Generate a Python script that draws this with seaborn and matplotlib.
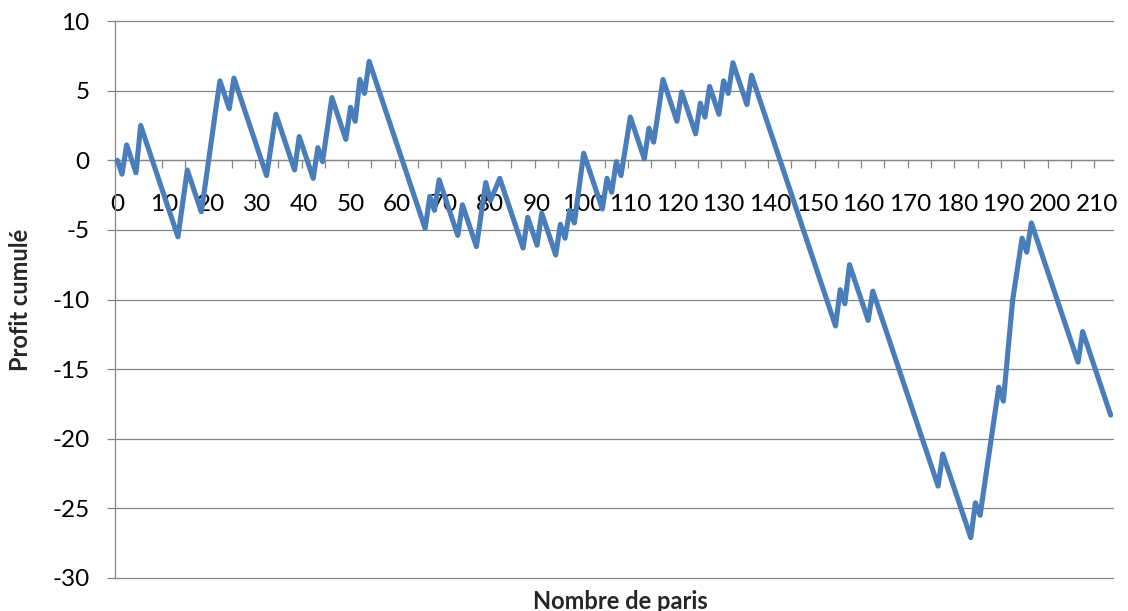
import numpy as np
import pandas as pd
import matplotlib
matplotlib.use("Agg")
import matplotlib.pyplot as plt
import seaborn as sns
from matplotlib.ticker import FixedLocator

# Cumulative profit after each bet
profit = [
    0.0, -1.0, 1.1, 0.1, -0.9, 2.5, 1.5, 0.5, -0.5, -1.5,
    -2.5, -3.5, -4.5, -5.5, -3.1, -0.7, -1.7, -2.7, -3.7, -1.4,
    1.0, 3.4, 5.7, 4.7, 3.7, 5.9, 4.9, 3.9, 2.9, 1.9,
    0.9, -0.1, -1.1, 1.1, 3.3, 2.3, 1.3, 0.3, -0.7, 1.7,
    0.7, -0.3, -1.3, 0.9, -0.1, 2.2, 4.5, 3.5, 2.5, 1.5,
    3.8, 2.8, 5.8, 4.8, 7.1, 6.1, 5.1, 4.1, 3.1, 2.1,
    1.1, 0.1, -0.9, -1.9, -2.9, -3.9, -4.9, -2.6, -3.6, -1.4,
    -2.4, -3.4, -4.4, -5.4, -3.2, -4.2, -5.2, -6.2, -3.9, -1.6,
    -2.9, -2.1, -1.3, -2.3, -3.3, -4.3, -5.3, -6.3, -4.1, -5.1,
    -6.1, -3.8, -4.8, -5.8, -6.8, -4.6, -5.6, -3.6, -4.5, -2.0,
    0.5, -0.5, -1.5, -2.5, -3.5, -1.3, -2.3, -0.1, -1.1, 1.0,
    3.1, 2.1, 1.1, 0.1, 2.3, 1.3, 3.5, 5.8, 4.8, 3.8,
    2.8, 4.9, 3.9, 2.9, 1.9, 4.1, 3.1, 5.3, 4.3, 3.3,
    5.7, 4.8, 7.0, 6.0, 5.0, 4.0, 6.1, 5.1, 4.1, 3.1,
    2.1, 1.1, 0.1, -0.9, -1.9, -2.9, -3.9, -4.9, -5.9, -6.9,
    -7.9, -8.9, -9.9, -10.9, -11.9, -9.3, -10.3, -7.5, -8.5, -9.5,
    -10.5, -11.5, -9.4, -10.4, -11.4, -12.4, -13.4, -14.4, -15.4, -16.4,
    -17.4, -18.4, -19.4, -20.4, -21.4, -22.4, -23.4, -21.1, -22.1, -23.1,
    -24.1, -25.1, -26.1, -27.1, -24.6, -25.5, -23.2, -20.9, -18.6, -16.3,
    -17.3, -13.6, -10.0, -7.8, -5.6, -6.6, -4.5, -5.5, -6.5, -7.5,
    -8.5, -9.5, -10.5, -11.5, -12.5, -13.5, -14.5, -12.3, -13.3, -14.3,
    -15.3, -16.3, -17.3, -18.3,
]
bets = list(range(len(profit)))

x_tick_values = [0, 10, 20, 30, 40, 50, 60, 70, 80, 90, 100,
                 110, 120, 130, 140, 150, 160, 170, 180, 190, 200, 210]
y_tick_values = [10, 5, 0, -5, -10, -15, -20, -25, -30]

sns.set_style("white")
plt.rcParams["font.family"] = ["Lato", "DejaVu Sans"]
plt.rcParams["axes.unicode_minus"] = False

W, H = 1128, 611
fig = plt.figure(figsize=(W / 100, H / 100), dpi=100)
left, right, top, bottom = 115, 1113, 21, 578
ax = fig.add_axes([left / W, 1 - bottom / H, (right - left) / W, (bottom - top) / H])

df = pd.DataFrame({"Nombre de paris": bets, "Profit cumulé": profit})
sns.lineplot(data=df, x="Nombre de paris", y="Profit cumulé", ax=ax,
             color="#4A7EBB", linewidth=3.7, zorder=3)
for ln in ax.get_lines():
    ln.set_solid_joinstyle("round")
    ln.set_solid_capstyle("round")

grey = "#868686"
ax.set_xlim(-0.5, len(profit) - 0.5)
ax.set_ylim(-30, 10)
ax.set_yticks(y_tick_values)
ax.yaxis.grid(True, color=grey, linewidth=0.9)
ax.xaxis.grid(False)
ax.set_axisbelow(True)
for gl in ax.yaxis.get_gridlines():
    gl.set_clip_on(False)

for s in ["top", "right"]:
    ax.spines[s].set_visible(False)
ax.spines["left"].set_color(grey)
ax.spines["left"].set_linewidth(0.9)
ax.spines["bottom"].set_position(("data", 0))
ax.spines["bottom"].set_color(grey)
ax.spines["bottom"].set_linewidth(0.9)

ax.set_xticks(x_tick_values)
ax.set_xticklabels([str(v) for v in x_tick_values])
ax.xaxis.set_minor_locator(FixedLocator(np.arange(-0.5, len(profit), 5)))
ax.tick_params(axis="x", which="major", bottom=True, length=0, pad=24,
               labelsize=17.5, labelcolor="black")
ax.tick_params(axis="x", which="minor", bottom=True, length=6, width=0.9,
               color=grey, direction="out")
ax.tick_params(axis="y", which="major", left=True, length=6, width=0.9,
               color=grey, direction="out", pad=12.5, labelsize=17.5,
               labelcolor="black")

ax.set_xlabel("Nombre de paris", fontsize=17, fontweight="bold")
ax.xaxis.set_label_coords((620 - left) / (right - left), (bottom - 590) / (bottom - top))
ax.set_ylabel("Profit cumulé", fontsize=17, fontweight="bold")
ax.yaxis.set_label_coords((32 - left) / (right - left), (bottom - 300) / (bottom - top))

fig.savefig("out.png", dpi=100, facecolor="white")
